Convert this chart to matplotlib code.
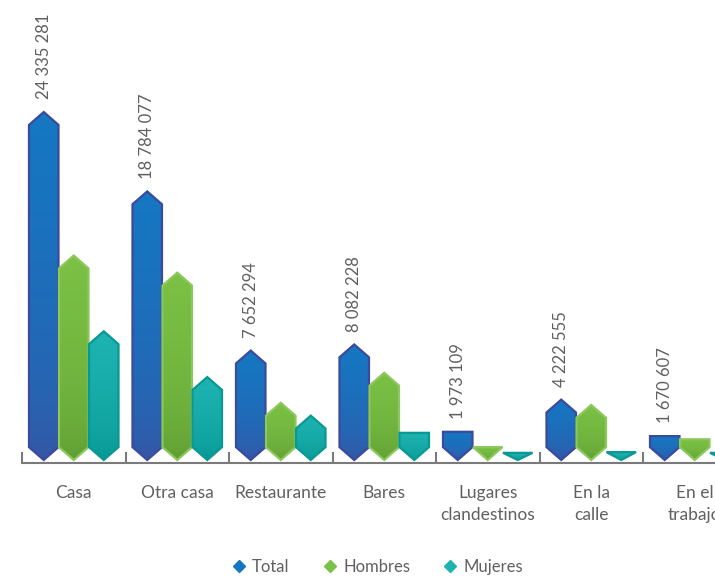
import numpy as np
import matplotlib
matplotlib.use("Agg")
import matplotlib.pyplot as plt
from matplotlib.patches import Polygon
from matplotlib.lines import Line2D
from matplotlib.colors import LinearSegmentedColormap

plt.rcParams['font.family'] = ['Lato', 'DejaVu Sans']

# --- données (millions de personnes) ---
categories = ['Casa', 'Otra casa', 'Restaurante', 'Bares',
              'Lugares\nclandestinos', 'En la\ncalle', 'En el\ntrabajo']
total = [24.335281, 18.784077, 7.652294, 8.082228, 1.973109, 4.222555, 1.670607]
hombres = [14.3, 13.1, 4.0, 6.1, 0.9, 3.85, 1.45]
mujeres = [9.0, 5.8, 3.1, 1.9, 0.5, 0.55, 0.5]
total_labels = ['24 335 281', '18 784 077', '7 652 294', '8 082 228',
                '1 973 109', '4 222 555', '1 670 607']
series_names = ['Total', 'Hombres', 'Mujeres']

colors = {
    'Total':   ('#1577c2', '#3b4f9f', '#3b4a9c'),
    'Hombres': ('#7bc145', '#5a962f', '#8cc85c'),
    'Mujeres': ('#1db3b0', '#00908c', '#0a9894'),
}

TRI = 0.9      # profondeur des pointes (en millions)
BAR_W = 0.285
OFFSETS = [-0.29, 0.0, 0.29]


def hex_points(xc, h):
    x0, x1 = xc - BAR_W / 2, xc + BAR_W / 2
    d_bot = min(TRI, h)
    if h <= TRI:
        return [(xc, 0), (x1, h), (x0, h)]
    rest = h - d_bot
    t_top = min(TRI, max(0.0, rest - 1.25 * TRI))
    return [(xc, 0), (x1, d_bot), (x1, h - t_top), (xc, h),
            (x0, h - t_top), (x0, d_bot)]


fig = plt.figure(figsize=(7.15, 5.77), dpi=100)
ax = fig.add_axes([22 / 715, (577 - 463) / 577, 724.5 / 715, 463 / 577])

grad = np.linspace(0, 1, 256).reshape(-1, 1) ** 0.4

for s, (name, vals) in enumerate(zip(series_names, [total, hombres, mujeres])):
    top_c, bot_c, edge_c = colors[name]
    cmap = LinearSegmentedColormap.from_list(name, [bot_c, top_c])
    for i, v in enumerate(vals):
        xc = i + 0.5 + OFFSETS[s]
        pts = hex_points(xc, v)
        poly = Polygon(pts, closed=True, facecolor=top_c, edgecolor='none')
        ax.add_patch(poly)
        im = ax.imshow(grad, cmap=cmap, aspect='auto', origin='lower',
                       extent=[xc - BAR_W / 2, xc + BAR_W / 2, 0, max(v, 0.01)],
                       vmin=0, vmax=1, zorder=2)
        im.set_clip_path(poly)
        ax.add_patch(Polygon(pts, closed=True, facecolor='none',
                             edgecolor=edge_c, linewidth=1.6, zorder=3,
                             joinstyle='miter'))

for i, (v, lab) in enumerate(zip(total, total_labels)):
    ax.text(i + 0.5 + OFFSETS[0], v + 0.9, lab, rotation=90, ha='center',
            va='bottom', fontsize=12, color='#606060', clip_on=False)

ax.set_xlim(0, 7)
ax.set_ylim(-0.21, 32.17)

for sp in ['top', 'right', 'left']:
    ax.spines[sp].set_visible(False)
ax.spines['bottom'].set_color('#7a7a7a')
ax.spines['bottom'].set_linewidth(1.5)
ax.set_yticks([])

ax.set_xticks(np.arange(0, 8))
ax.set_xticklabels([])
ax.tick_params(axis='x', which='major', direction='in', length=8,
               width=1.5, color='#7a7a7a')
ax.set_xticks(np.arange(7) + 0.5, minor=True)
ax.set_xticklabels(categories, minor=True, fontsize=12.5, color='#606060',
                   linespacing=1.45)
ax.tick_params(axis='x', which='minor', length=0, pad=16)

handles = [Line2D([], [], marker='D', linestyle='none', markersize=6,
                  color=colors[n][0]) for n in series_names]
fig.legend(handles, series_names, loc='center', bbox_to_anchor=(0.527, 0.017),
           ncol=3, frameon=False, fontsize=12, handletextpad=0.3,
           handlelength=1.0, columnspacing=1.9, labelcolor='#606060')

fig.savefig('out.png', dpi=100)
